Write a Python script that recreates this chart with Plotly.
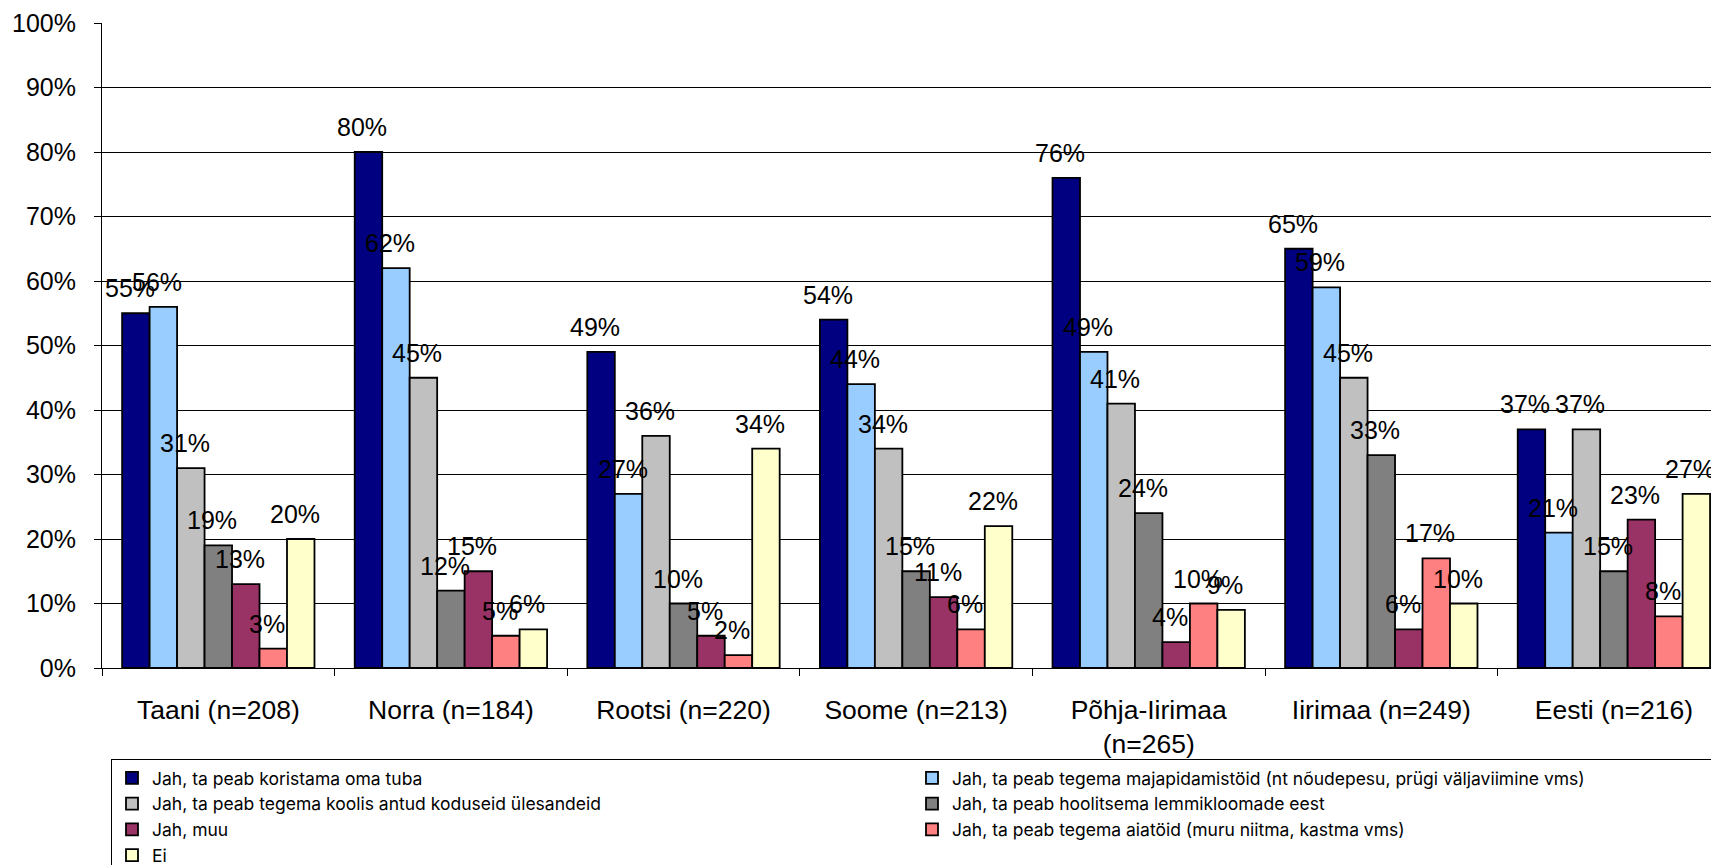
import plotly.graph_objects as go

categories = ["Taani (n=208)", "Norra (n=184)", "Rootsi (n=220)", "Soome (n=213)",
              "Põhja-Iirimaa<br>(n=265)", "Iirimaa (n=249)", "Eesti (n=216)"]

series_names = [
    "Jah, ta peab koristama oma tuba",
    "Jah, ta peab tegema majapidamistöid (nt nõudepesu, prügi väljaviimine vms)",
    "Jah, ta peab tegema koolis antud koduseid ülesandeid",
    "Jah, ta peab hoolitsema lemmikloomade eest",
    "Jah, muu",
    "Jah, ta peab tegema aiatöid (muru niitma, kastma vms)",
    "Ei",
]

koristama = [55, 80, 49, 54, 76, 65, 37]
majapidamistood = [56, 62, 27, 44, 49, 59, 21]
koolis = [31, 45, 36, 34, 41, 45, 37]
lemmikloomad = [19, 12, 10, 15, 24, 33, 15]
muu = [13, 15, 5, 11, 4, 6, 23]
aiatood = [3, 5, 2, 6, 10, 17, 8]
ei = [20, 6, 34, 22, 9, 10, 27]

series_values = [koristama, majapidamistood, koolis, lemmikloomad, muu, aiatood, ei]
colors = ["#000080", "#99CCFF", "#C0C0C0", "#808080", "#993366", "#FF8080", "#FFFFCC"]

y_ticks = [0, 10, 20, 30, 40, 50, 60, 70, 80, 90, 100]

FONT = "Liberation Sans, Arial, sans-serif"
LEGEND_FONT = "Inter, Liberation Sans, sans-serif"
BARGAP = 0.173
n_series = len(series_values)
bw = (1 - BARGAP) / n_series

# the page body adds an 8px offset, so the figure is 8px smaller than the window
W, H = 1711, 857
OFF = 8

fig = go.Figure()
annotations = []
for i, (name, vals, col) in enumerate(zip(series_names, series_values, colors)):
    fig.add_trace(go.Bar(
        x=categories, y=vals, name=name,
        marker=dict(color=col, line=dict(color="black", width=1.8)),
        hoverinfo="skip",
    ))
    for j, v in enumerate(vals):
        annotations.append(dict(
            x=j + (i - (n_series - 1) / 2) * bw, y=v, xref="x", yref="y",
            text=f"{v}%", showarrow=False, xanchor="center", yanchor="bottom",
            xshift=-6, yshift=9,
            font=dict(family=FONT, size=25, color="black"),
        ))

fig.update_layout(
    width=W, height=H,
    margin=dict(l=102 - OFF, r=0, t=23 - OFF, b=H - (668 - OFF), autoexpand=False),
    paper_bgcolor="white", plot_bgcolor="white",
    barmode="group", bargap=BARGAP, bargroupgap=0,
    font=dict(family=FONT, size=25, color="black"),
    annotations=annotations,
    showlegend=True,
    legend=dict(
        orientation="h",
        xref="container", yref="container",
        x=(111 - OFF) / W, y=1 - (759 - OFF) / H,
        xanchor="left", yanchor="top",
        font=dict(family=LEGEND_FONT, size=17.5, color="black"),
        bordercolor="black", borderwidth=1,
        entrywidth=755, entrywidthmode="pixels",
        traceorder="normal", itemclick=False,
    ),
)

fig.update_xaxes(
    type="category", categoryorder="array", categoryarray=categories,
    range=[-0.5, -0.5 + 1617 / 232.6],
    showline=True, linecolor="black", linewidth=1,
    ticks="outside", tickson="boundaries", ticklen=7, tickcolor="black",
    tickfont=dict(family=FONT, size=26.5, color="black"),
    ticklabelstandoff=18,
    showgrid=False, zeroline=False, automargin=False,
)
fig.update_yaxes(
    range=[0, 100], tickvals=y_ticks, ticktext=[f"{t}%" for t in y_ticks],
    showline=True, linecolor="black", linewidth=1,
    ticks="outside", ticklen=7, tickcolor="black",
    showgrid=True, gridcolor="black", gridwidth=1,
    zeroline=False, automargin=False,
    tickfont=dict(family=FONT, size=25, color="black"),
    ticklabelstandoff=13,
)

fig.write_html("out.html")
